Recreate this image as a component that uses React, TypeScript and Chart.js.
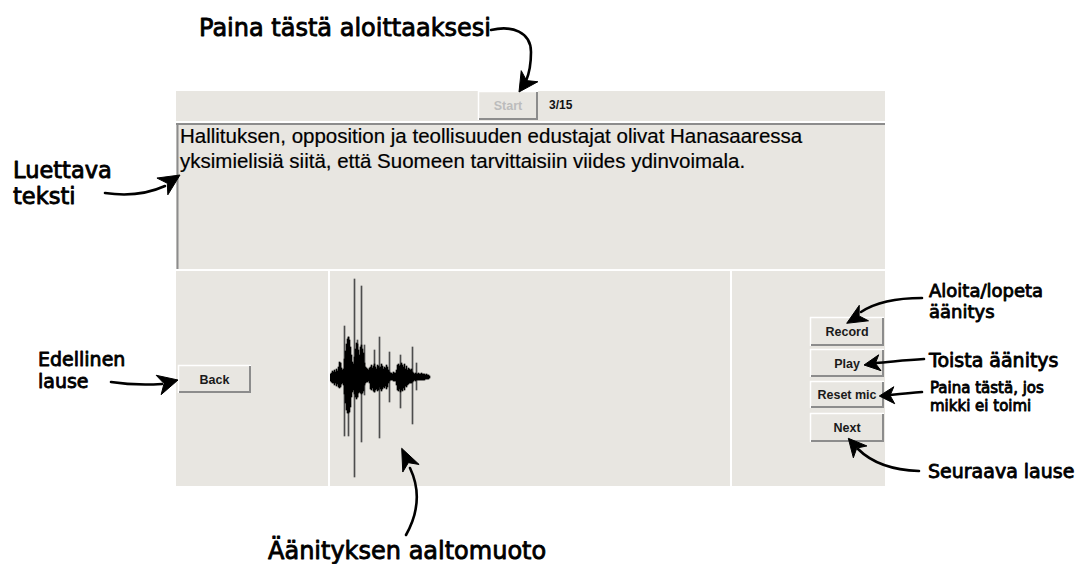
import React, { useEffect, useRef } from "react";
import { Chart, registerables } from "chart.js";

Chart.register(...registerables);

// Waveform envelope (one sample per pixel column), amplitude above / below the centre line
const waveTop = [
  3, 4, 6, 5, 7, 5, 8, 6, 10, 15,
  14, 9, 7, 8, 18, 26, 33, 38, 40, 37,
  30, 22, 15, 13, 20, 28, 34, 33, 27, 22,
  30, 32, 28, 24, 14, 10, 9, 8, 7, 9,
  10, 12, 9, 11, 13, 10, 8, 12, 11, 9,
  10, 13, 11, 8, 10, 9, 12, 10, 7, 5,
  4, 4, 3, 5, 4, 4, 7, 12, 13, 11,
  12, 14, 12, 10, 13, 8, 11, 7, 9, 8,
  7, 8, 5, 4, 3, 4, 3, 3, 4, 3,
  3, 4, 3, 3, 3, 2, 3, 2, 2, 1,
];
const waveBottom = [
  4, 5, 6, 6, 8, 6, 9, 7, 10, 11,
  10, 7, 6, 8, 17, 26, 33, 36, 36, 35,
  30, 20, 15, 13, 17, 20, 22, 20, 16, 15,
  16, 17, 16, 14, 8, 6, 5, 5, 4, 6,
  12, 13, 11, 14, 15, 13, 12, 14, 13, 10,
  12, 14, 12, 10, 11, 9, 12, 10, 6, 4,
  3, 3, 3, 4, 4, 4, 8, 13, 14, 12,
  15, 13, 14, 11, 13, 9, 10, 8, 7, 6,
  6, 6, 5, 4, 3, 4, 3, 3, 3, 3,
  3, 3, 3, 3, 3, 2, 2, 2, 2, 1,
];
// Thin clipping spikes
const spikePos = [10, 14, 18, 24, 27, 31, 34, 44, 49, 59, 70, 82, 86];
const spikeTop = [14, 51, 40, 98, 37, 91, 32, 27, 40, 25, 22, 30, 14];
const spikeBottom = [9, 59, 59, 100, 20, 65, 18, 15, 61, 25, 31, 47, 13];

const PANEL = "#e8e6e1";
const SHADOW = "#8c8c8c";
const ANNOT_FONT = "'DejaVu Sans', 'Noto Sans', sans-serif";
const UI_FONT = "'Liberation Sans', Arial, Helvetica, sans-serif";

type Btn = { label: string; x: number; y: number; w: number; h: number; disabled?: boolean };
const buttons: Btn[] = [
  { label: "Start", x: 478, y: 91, w: 60, h: 29, disabled: true },
  { label: "Back", x: 178, y: 365, w: 73, h: 28 },
  { label: "Record", x: 810, y: 317, w: 74, h: 29 },
  { label: "Play", x: 810, y: 349, w: 74, h: 28 },
  { label: "Reset mic", x: 810, y: 381, w: 74, h: 27 },
  { label: "Next", x: 810, y: 413, w: 74, h: 29 },
];

function head(tx: number, ty: number, dx: number, dy: number, len: number, hw: number) {
  const m = Math.hypot(dx, dy);
  const ux = dx / m, uy = dy / m;
  const bx = tx - ux * len, by = ty - uy * len;
  const nx = -uy, ny = ux;
  const c1x = bx + nx * hw, c1y = by + ny * hw;
  const c2x = bx - nx * hw, c2y = by - ny * hw;
  const kx = tx - ux * len * 0.72, ky = ty - uy * len * 0.72;
  return `M${tx},${ty} L${c1x},${c1y} L${kx},${ky} L${c2x},${c2y} Z`;
}

const arrows = [
  { shaft: "M491,30 C512,25 531,32 531,52 C531,66 529,74 526,81", head: head(519, 92, -8, 12, 19, 10) },
  { shaft: "M105,193 C125,196 145,195 165,186", head: head(180, 175, 20, -13, 21, 10) },
  { shaft: "M111,382 C130,385 145,385 162,384", head: head(178, 380, 19.5, -5, 20, 10) },
  { shaft: "M406,535 C420,510 419,487 410,468", head: head(401.7, 448.3, -9.6, -20.7, 22, 9) },
  { shaft: "M922,298 C895,298 876,302 861,312", head: head(846.7, 323.3, -17.3, 10.3, 20, 9) },
  { shaft: "M924,359 C905,360 890,362 876,363", head: head(864, 365, -14, 2, 16, 8) },
  { shaft: "M922,392 C910,393 900,394 890,395", head: head(879.3, 396, -13.5, 0.7, 15, 8.5) },
  { shaft: "M919,471 C890,470 870,461 858,449", head: head(848.3, 438.3, -10.9, -12.5, 18, 9) },
];

const labels = [
  { t: "Paina tästä aloittaaksesi", x: 199, y: 36, s: 24 },
  { t: "Luettava", x: 13, y: 177.5, s: 22.5 },
  { t: "teksti", x: 13, y: 203.5, s: 22.5 },
  { t: "Edellinen", x: 38, y: 365.5, s: 19 },
  { t: "lause", x: 38, y: 388, s: 19 },
  { t: "Äänityksen aaltomuoto", x: 268, y: 559, s: 24 },
  { t: "Aloita/lopeta", x: 929, y: 297, s: 18 },
  { t: "äänitys", x: 929, y: 318, s: 18 },
  { t: "Toista äänitys", x: 929, y: 367, s: 19 },
  { t: "Paina tästä, jos", x: 930, y: 393, s: 15 },
  { t: "mikki ei toimi", x: 930, y: 410.5, s: 15 },
  { t: "Seuraava lause", x: 928, y: 478, s: 19 },
];

function Button({ b }: { b: Btn }) {
  const { x, y, w, h } = b;
  return (
    <g>
      <rect x={x} y={y} width={w} height={h} fill={PANEL} />
      <polyline points={`${x + 0.5},${y + h} ${x + 0.5},${y + 0.5} ${x + w},${y + 0.5}`} fill="none" stroke="#ffffff" strokeWidth={1.5} />
      <polyline points={`${x + 1},${y + h - 1} ${x + w - 1},${y + h - 1} ${x + w - 1},${y + 1}`} fill="none" stroke={SHADOW} strokeWidth={2} />
      <text
        x={x + w / 2}
        y={y + h / 2 + 4.5}
        textAnchor="middle"
        fontFamily={UI_FONT}
        fontWeight="bold"
        fontSize={12.5}
        fill={b.disabled ? "#bcbcbc" : "#1a1a1a"}
      >
        {b.label}
      </text>
    </g>
  );
}

export default function App() {
  const canvasRef = useRef<HTMLCanvasElement | null>(null);

  useEffect(() => {
    if (!canvasRef.current) return;
    const envelope = waveTop.map((t, i) => ({ x: i + 0.5, y: [-waveBottom[i], t] }));
    const spikes = spikePos.map((p, k) => ({ x: p + 0.5, y: [-spikeBottom[k], spikeTop[k]] }));
    const chart = new Chart(canvasRef.current, {
      type: "bar",
      data: {
        datasets: [
          {
            label: "envelope",
            data: envelope as any,
            backgroundColor: "#000000",
            borderWidth: 0,
            barPercentage: 1,
            categoryPercentage: 1,
            grouped: false,
          } as any,
          {
            label: "spikes",
            data: spikes as any,
            backgroundColor: "#4d4d4d",
            borderWidth: 0,
            barPercentage: 1,
            categoryPercentage: 1,
            grouped: false,
          } as any,
        ],
      },
      options: {
        responsive: false,
        maintainAspectRatio: false,
        animation: false,
        events: [],
        layout: { padding: 0 },
        plugins: { legend: { display: false }, tooltip: { enabled: false } },
        scales: {
          x: { type: "linear", min: 0, max: 400, offset: false, display: false },
          y: { type: "linear", min: -109, max: 106, display: false },
        },
      },
    });
    return () => chart.destroy();
  }, []);

  return (
    <div style={{ position: "absolute", left: 0, top: 0, width: 1079, height: 564, background: "#ffffff", overflow: "hidden" }}>
      <svg width={1079} height={564} style={{ position: "absolute", left: 0, top: 0 }}>
        {/* top bar */}
        <rect x={176} y={91} width={709} height={30} fill={PANEL} />
        {/* text area (sunken) */}
        <rect x={176} y={123} width={709} height={146} fill={PANEL} />
        <line x1={176} y1={124} x2={885} y2={124} stroke={SHADOW} strokeWidth={2} />
        <line x1={177.5} y1={123} x2={177.5} y2={269} stroke={SHADOW} strokeWidth={2} />
        {/* bottom panels */}
        <rect x={176} y={271} width={152} height={215} fill={PANEL} />
        <rect x={330} y={271} width={400} height={215} fill={PANEL} />
        <rect x={732} y={271} width={153} height={215} fill={PANEL} />

        {buttons.map((b) => (
          <Button key={b.label} b={b} />
        ))}
        <text x={549} y={109} fontFamily={UI_FONT} fontWeight="bold" fontSize={12} fill="#111">
          3/15
        </text>

        <text x={180} y={143} fontFamily={UI_FONT} fontSize={20.5} fill="#000" stroke="#000" strokeWidth={0.2}>
          Hallituksen, opposition ja teollisuuden edustajat olivat Hanasaaressa
        </text>
        <text x={180} y={168} fontFamily={UI_FONT} fontSize={20.5} fill="#000" stroke="#000" strokeWidth={0.2}>
          yksimielisiä siitä, että Suomeen tarvittaisiin viides ydinvoimala.
        </text>

        {labels.map((l, i) => (
          <text
            key={i}
            x={l.x}
            y={l.y}
            fontFamily={ANNOT_FONT}
            fontSize={l.s}
            fill="#000"
            stroke="#000"
            strokeWidth={0.85}
            strokeLinejoin="round"
          >
            {l.t}
          </text>
        ))}

        {arrows.map((a, i) => (
          <g key={i}>
            <path d={a.shaft} fill="none" stroke="#000" strokeWidth={2.6} strokeLinecap="round" />
            <path d={a.head} fill="#000" stroke="#000" strokeWidth={1} strokeLinejoin="round" />
          </g>
        ))}
      </svg>
      <canvas
        ref={canvasRef}
        width={400}
        height={215}
        style={{ position: "absolute", left: 330, top: 271, width: 400, height: 215 }}
      />
    </div>
  );
}
